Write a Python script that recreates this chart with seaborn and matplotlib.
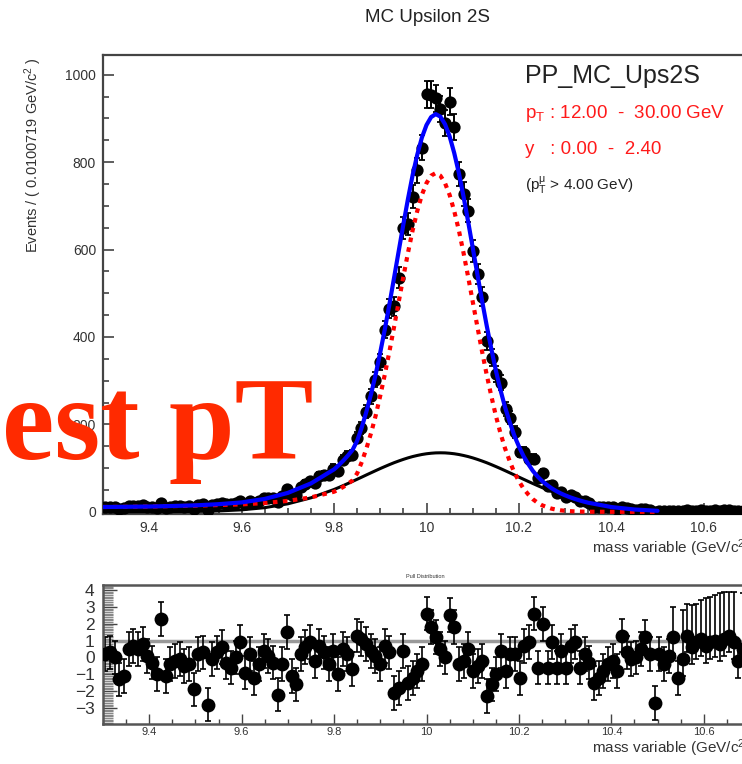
import numpy as np
import pandas as pd
import matplotlib
matplotlib.use("Agg")
import matplotlib.pyplot as plt
import seaborn as sns
from matplotlib.ticker import MultipleLocator, FuncFormatter

sns.set_theme(style="ticks")
plt.rcParams['font.family'] = ['Liberation Sans', 'DejaVu Sans']
plt.rcParams['mathtext.fontset'] = 'custom'
plt.rcParams['mathtext.rm'] = 'Liberation Sans'
plt.rcParams['mathtext.it'] = 'Liberation Sans'
plt.rcParams['mathtext.default'] = 'regular'

# ---------------- data ----------------
mass_low, mass_high, n_bins = 9.3, 10.7, 139

counts = [12, 12, 11, 7, 8, 13, 14, 14, 15, 12,
          11, 9, 21, 9, 12, 13, 13, 12, 13, 7,
          16, 17, 5, 16, 18, 20, 17, 17, 20, 25,
          18, 25, 20, 25, 31, 32, 32, 23, 37, 52,
          38, 38, 56, 64, 70, 67, 81, 84, 85, 99,
          93, 119, 128, 130, 170, 192, 229, 264, 302, 342,
          417, 465, 470, 536, 650, 659, 721, 781, 833, 955,
          954, 946, 921, 890, 938, 880, 773, 727, 689, 597,
          544, 492, 391, 353, 315, 295, 235, 215, 183, 137,
          137, 121, 121, 77, 89, 58, 62, 44, 46, 34,
          38, 35, 24, 25, 20, 12, 12, 12, 11, 10,
          7, 12, 8, 6, 5, 6, 7, 4, 0, 2,
          1, 2, 3, 1, 2, 4, 3, 3, 4, 3,
          3, 4, 3, 4, 4, 3, 2, 3, 3]

pulls = [0.2, 0.3, 0.0, -1.3, -1.1, 0.5, 0.7, 0.5, 0.8, 0.1,
         -0.3, -1.0, 2.3, -1.1, -0.4, -0.2, -0.1, -0.5, -0.4, -1.9,
         0.2, 0.3, -2.8, -0.1, 0.3, 0.6, -0.3, -0.6, 0.0, 0.9,
         -0.9, 0.2, -1.2, -0.4, 0.4, 0.1, -0.3, -2.2, -0.4, 1.5,
         -1.1, -1.6, 0.2, 0.6, 0.9, -0.2, 0.7, 0.3, -0.4, 0.4,
         -1.0, 0.5, 0.2, -0.7, 1.3, 1.1, 0.8, 0.4, 0.1, -0.4,
         0.7, 0.3, -2.1, -1.8, 0.4, -1.5, -1.2, -0.8, -0.4, 2.6,
         1.8, 1.2, 0.5, 0.0, 2.5, 1.8, -0.4, -0.2, 0.5, -0.8,
         -0.5, -0.2, -2.3, -1.6, -1.0, 0.4, -0.8, 0.2, 0.2, -1.2,
         0.7, 0.9, 2.6, -0.6, 2.0, -0.6, 0.9, -0.6, 0.4, -0.6,
         0.7, 0.9, -0.6, 0.2, -0.3, -1.5, -1.2, -0.8, -0.4, -0.2,
         -0.8, 1.3, 0.3, -0.1, 0.0, 0.5, 1.2, 0.2, -2.7, 0.2,
         -0.4, 0.1, 1.2, -1.2, -0.1, 1.3, 0.6, 0.9, 1.1, 0.7,
         0.9, 1.0, 0.8, 1.1, 1.3, 0.9, -0.2, 0.5, 0.8]

pull_err_lo = [1.0] * 139
pull_err_hi = [1.0] * 122 + [1.8, 1.0, 2.9, 1.9, 2.5, 2.3, 2.3, 2.8, 2.7,
                             2.7, 3.0, 2.8, 2.6, 3.0, 1.0, 3.3, 3.2]

curve_mass = [9.30, 9.35, 9.40, 9.45, 9.50, 9.55, 9.60, 9.65, 9.70, 9.75, 9.80,
              9.81, 9.82, 9.83, 9.84, 9.85, 9.86, 9.87, 9.88, 9.89, 9.90,
              9.91, 9.92, 9.93, 9.94, 9.95, 9.96, 9.97, 9.98, 9.99, 10.00,
              10.01, 10.02, 10.03, 10.04, 10.05, 10.06, 10.07, 10.08, 10.09, 10.10,
              10.11, 10.12, 10.13, 10.14, 10.15, 10.16, 10.17, 10.18, 10.19, 10.20,
              10.21, 10.22, 10.23, 10.24, 10.25, 10.26, 10.27, 10.28, 10.29, 10.30,
              10.31, 10.32, 10.33, 10.34, 10.35, 10.40, 10.45, 10.50]

signal_fit = [11, 11.5, 12, 13, 14, 15.5, 17, 20, 25, 33, 46,
              51, 57, 64, 72, 88, 114, 145, 180, 220, 266,
              315, 368, 424, 481, 538, 593, 644, 688, 725, 752,
              769, 775, 769, 752, 725, 688, 644, 593, 538, 481,
              424, 368, 315, 266, 220, 180, 145, 116, 90, 70,
              53, 40, 29, 21, 15, 11, 7.4, 5.1, 3.4, 2.3,
              1.5, 1.0, 0.6, 0.4, 0.2, 0.0, 0.0, 0.0]

bkg_fit = [0.0, 0.0, 0.1, 0.3, 0.8, 2.0, 4.5, 9.5, 18.3, 32.0, 51.1,
           55.5, 60.1, 64.8, 69.6, 74.5, 79.4, 84.4, 89.3, 94.2, 99.0,
           103.6, 108.1, 112.4, 116.3, 120.0, 123.4, 126.4, 128.9, 131.1, 132.8,
           134.0, 134.8, 135.0, 134.8, 134.0, 132.8, 131.1, 128.9, 126.4, 123.4,
           120.0, 116.3, 112.4, 108.1, 103.6, 99.0, 94.2, 89.3, 84.4, 79.4,
           74.5, 69.6, 64.8, 60.1, 55.5, 51.1, 46.9, 42.9, 39.0, 35.4,
           32.0, 28.8, 25.9, 23.1, 20.6, 10.9, 5.3, 2.3]

total_fit = [11.0, 11.5, 12.1, 13.3, 14.8, 17.5, 21.5, 29.5, 43.3, 65.0, 97.1,
             106.5, 117.1, 128.8, 141.6, 162.5, 193.4, 229.4, 269.3, 314.2, 365.0,
             418.6, 476.1, 536.4, 597.3, 658.0, 716.4, 770.4, 816.9, 856.1, 884.8,
             903.0, 909.8, 904.0, 886.8, 859.0, 820.8, 775.1, 721.9, 664.4, 604.4,
             544.0, 484.3, 427.4, 374.1, 323.6, 279.0, 239.2, 205.3, 174.4, 149.4,
             127.5, 109.6, 93.8, 81.1, 70.5, 62.1, 54.3, 48.0, 42.4, 37.7,
             33.5, 29.8, 26.5, 23.5, 20.8, 10.9, 5.3, 2.3]

x_tick_values = [9.4, 9.6, 9.8, 10.0, 10.2, 10.4, 10.6]
y_tick_values = [0, 200, 400, 600, 800, 1000]
pull_tick_values = [-3, -2, -1, 0, 1, 2, 3, 4]

# ---------------- figure ----------------
W, H = 742, 764
fig = plt.figure(figsize=(W / 100, H / 100), dpi=100)
fig.patch.set_facecolor('white')


def px_rect(l, t, r, b):
    return [l / W, 1 - b / H, (r - l) / W, (b - t) / H]


ax = fig.add_axes(px_rect(103, 55, 750, 514))
axp = fig.add_axes(px_rect(103, 585, 750, 724))
for a in (ax, axp):
    a.set_facecolor('white')

edges = np.linspace(mass_low, mass_high, n_bins + 1)
centers = 0.5 * (edges[1:] + edges[:-1])
df = pd.DataFrame({'mass': centers, 'events': counts})
df['err'] = np.sqrt(df['events'])

# top panel: data
ax.errorbar(df['mass'], df['events'], yerr=df['err'], fmt='none',
            ecolor='black', elinewidth=1.4, capsize=2.2, capthick=1.3, zorder=2)
sns.scatterplot(data=df, x='mass', y='events', ax=ax, color='black', s=78,
                linewidth=0, zorder=3, legend=False)

cdf = pd.DataFrame({'mass': curve_mass, 'total': total_fit,
                    'signal': signal_fit, 'bkg': bkg_fit})
sns.lineplot(data=cdf, x='mass', y='bkg', ax=ax, color='black', lw=2.2,
             zorder=4, sort=False, estimator=None)
sns.lineplot(data=cdf, x='mass', y='signal', ax=ax, color='#ff0000', lw=3.0,
             linestyle=(0, (1.1, 1.3)), zorder=5, sort=False, estimator=None)
sns.lineplot(data=cdf, x='mass', y='total', ax=ax, color='#0000ff', lw=3.0,
             zorder=6, sort=False, estimator=None)

ax.set_xlim(mass_low, mass_high)
ax.set_ylim(-5, 1045)
ax.set_xticks(x_tick_values)
ax.set_yticks(y_tick_values)
ax.xaxis.set_minor_locator(MultipleLocator(0.05))
ax.yaxis.set_minor_locator(MultipleLocator(50))
fmt = FuncFormatter(lambda v, _: f"{v:g}")
ax.xaxis.set_major_formatter(fmt)
ax.tick_params(which='both', direction='in', top=False, right=False,
               color='#333333', width=1.1)
ax.tick_params(which='major', length=8, labelsize=10, labelcolor='#333333', pad=5)
ax.tick_params(which='minor', length=4.5)
ax.set_xlabel('')
ax.set_ylabel('')
for s in ax.spines.values():
    s.set_color('#444444')
    s.set_linewidth(1.6)

# pull panel
pdf = pd.DataFrame({'mass': centers, 'pull': pulls})
axp.axhline(1.0, color='#999999', lw=2.5, zorder=1)
axp.errorbar(pdf['mass'], pdf['pull'], yerr=[pull_err_lo, pull_err_hi], fmt='none',
             ecolor='black', elinewidth=1.2, capsize=2.5, capthick=1.2, zorder=2)
sns.scatterplot(data=pdf, x='mass', y='pull', ax=axp, color='black', s=100,
                linewidth=0, zorder=3, legend=False)
axp.set_xlim(mass_low, mass_high)
axp.set_ylim(-3.95, 4.3)
axp.set_xticks(x_tick_values)
axp.set_yticks(pull_tick_values)
axp.xaxis.set_major_formatter(fmt)
axp.xaxis.set_minor_locator(MultipleLocator(0.05))
axp.yaxis.set_minor_locator(MultipleLocator(0.1))
axp.tick_params(which='both', direction='in', top=False, right=False,
                color='#444444', width=1.0)
axp.tick_params(axis='x', which='major', length=7, labelsize=8,
                labelcolor='#333333', pad=2)
axp.tick_params(axis='x', which='minor', length=3.5)
axp.tick_params(axis='y', which='major', length=10, labelsize=12.5,
                labelcolor='#333333', pad=6)
axp.tick_params(axis='y', which='minor', length=7, color='#888888')
axp.set_xlabel('')
axp.set_ylabel('')
for s in axp.spines.values():
    s.set_color('#555555')
    s.set_linewidth(1.8)

# texts
fig.text(428 / W, 1 - 18 / H, "MC Upsilon 2S", ha='center', va='center',
         fontsize=13.5, color='#222222')
fig.text(525 / W, 1 - 76 / H, "PP_MC_Ups2S", ha='left', va='center',
         fontsize=18, color='#222222')
fig.text(525 / W, 1 - 114 / H, r"$p_{T}$ : 12.00  -  30.00 GeV", ha='left',
         va='center', fontsize=13.5, color='#ff1a1a')
fig.text(525 / W, 1 - 150 / H, "y   : 0.00  -  2.40", ha='left', va='center',
         fontsize=13.5, color='#ff1a1a')
fig.text(525 / W, 1 - 185 / H, r"($p_{T}^{\mu}$ > 4.00 GeV)", ha='left',
         va='center', fontsize=11, color='#222222')
fig.text(33 / W, 1 - 57 / H, r"Events / ( 0.0100719 GeV/c$^{2}$ )", rotation=90,
         ha='center', va='top', fontsize=10.5, color='#333333')
fig.text(750 / W, 1 - 548 / H, r"mass variable (GeV/c$^{2}$)", ha='right',
         va='center', fontsize=11, color='#333333')
fig.text(425 / W, 1 - 577 / H, "Pull Distribution", ha='center', va='center',
         fontsize=4, color='#333333')
fig.text(750 / W, 1 - 748 / H, r"mass variable (GeV/c$^{2}$)", ha='right',
         va='center', fontsize=11, color='#333333')
fig.text(2 / W, 1 - 459 / H, "est pT", ha='left', va='baseline', fontsize=85,
         family=['Liberation Serif', 'DejaVu Serif'], fontweight='bold',
         color='#ff2a00', zorder=20)

fig.savefig('out.png', dpi=100, facecolor='white')
